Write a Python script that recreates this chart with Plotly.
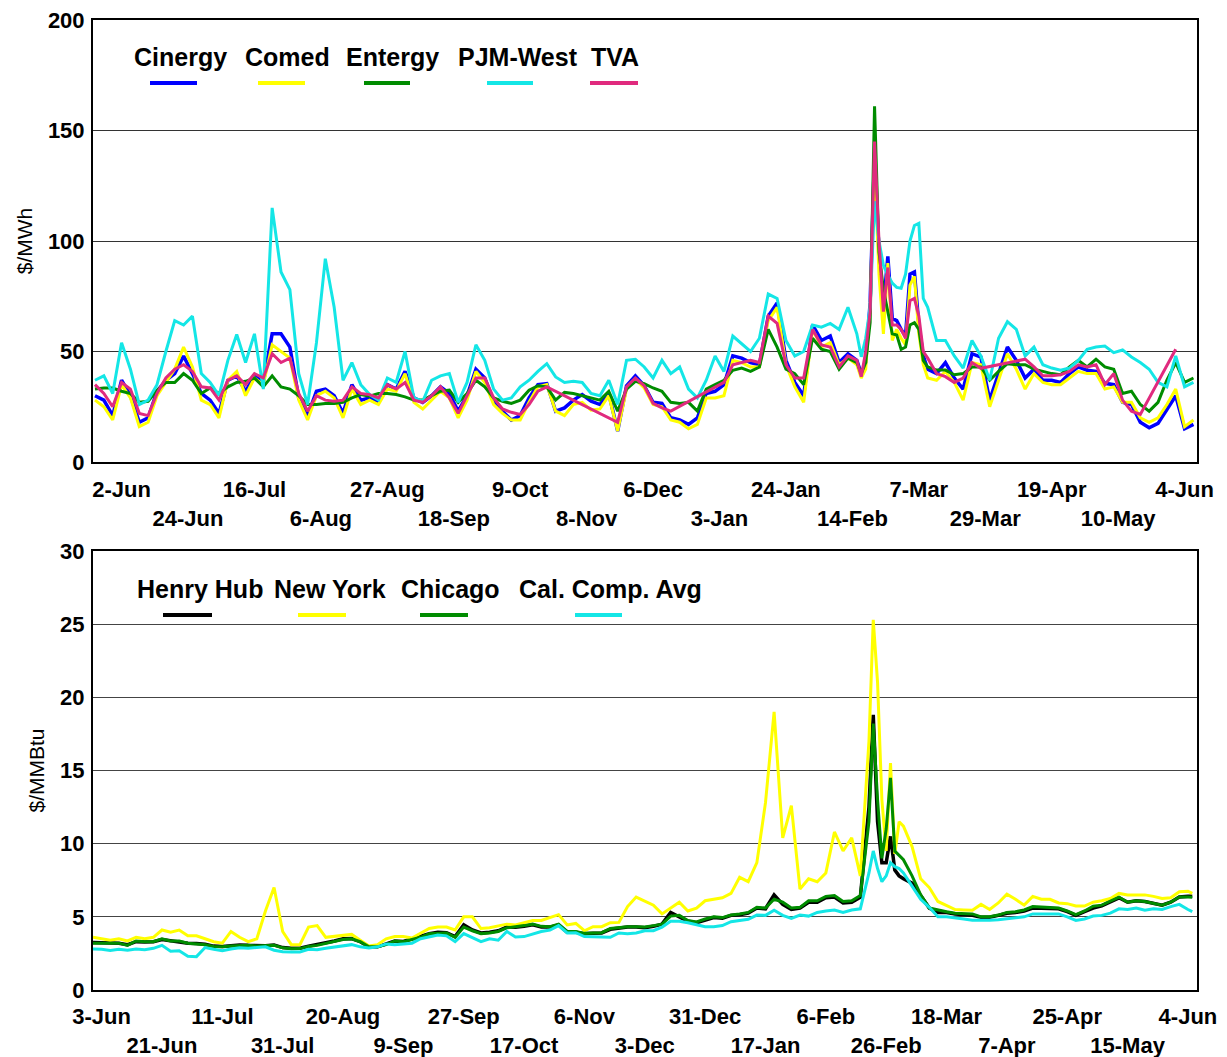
import plotly.graph_objects as go

# ---------------- Power prices ($/MWh) ----------------
power_idx = list(range(0, 173, 2)) + list(range(173, 189)) + list(range(190, 249, 2))

cinergy = [30, 28, 21, 37, 30, 18, 20, 32, 37, 40, 48, 40, 31, 28, 22, 37, 39, 32, 39, 36, 58, 58, 52, 29, 21,
           32, 33, 30, 22, 35, 28, 29, 27, 35, 33, 41, 29, 27, 30, 34, 31, 23, 30, 42, 38,
           27.5, 23, 19, 21, 29, 35, 35.5, 23, 24.5, 28, 30.5, 27.5, 26, 31, 14, 34.5, 39, 34.5, 27,
           26.5, 20, 19, 17, 20, 31, 32, 35, 48, 47, 45, 44, 66, 72, 46, 36, 30, 62, 55, 57, 45, 49, 46,
           40, 45, 72, 140, 95, 70, 93, 65, 64, 60, 57, 85, 86, 62, 48, 42,
           40, 45, 38, 33, 49, 47.5, 28, 40, 52, 46, 38, 42, 37, 37, 36, 40, 43, 41.5, 41, 35.6, 35, 27, 26, 18,
           15.5, 17.5, 24, 30, 15, 17]
comed = [28, 25, 19, 35, 29, 16, 18, 30, 36, 42, 52, 43, 28, 26, 20, 37, 41, 30, 38, 35, 53, 50, 47, 28, 19,
         30, 32, 29, 20, 33, 26, 28, 26, 33, 32, 40, 27, 24, 28, 32, 29, 20, 28, 41, 36,
         26, 22, 19, 19, 27, 34, 35, 23, 21, 26, 27, 23.5, 24, 30, 14, 33, 37.5, 33.5, 26,
         25, 19, 18, 15, 17, 29, 29, 30, 46, 45, 43, 43, 64, 70, 44, 34, 27, 60, 52, 54, 44, 47, 44,
         38, 42, 70, 135, 85, 58, 90, 55, 60, 56, 53, 80, 84, 58, 44, 38,
         37, 41, 36, 28, 45, 44, 25, 37, 49, 42, 33, 40, 36, 35, 35, 38, 41, 40, 40, 33, 34, 27, 27, 20,
         18, 20, 26, 33, 16, 19]
entergy = [33, 33.5, 33.5, 32, 31, 27, 27.5, 32.5, 36, 36, 40, 37, 31, 33.5, 31, 34, 36, 36.5, 38, 34, 39, 34, 33,
           30, 26, 26, 26.5, 26.5, 27, 29, 30.5, 29.8, 31, 31, 30.5, 29.5, 28, 28, 30, 32, 32.5, 27, 31, 37, 34,
           29, 27.5, 26.5, 28, 32.5, 34.5, 34, 28, 31.5, 31, 30, 29, 28, 32, 23, 33, 36.5, 35.5, 33.5,
           32, 27, 26.5, 27, 23, 33, 35, 37, 41.5, 42.5, 41, 43, 60, 52, 42, 40, 35, 56, 51, 50, 42, 47, 45,
           40, 45, 63, 161, 95, 78, 68, 58, 57.5, 51, 52, 62, 63, 60, 46, 43,
           41.6, 41.6, 39.5, 40, 43, 43, 37, 41, 44.5, 44, 44, 42, 41, 40, 39.5, 43, 46, 43, 46.5, 43, 42, 31, 32,
           26, 23, 27, 37, 45, 36, 38]
pjm_west = [37, 39, 31, 54, 42, 26, 28, 35, 50, 64, 62, 66, 40, 36, 30, 46, 57.7, 45, 58, 33, 115, 86, 78, 40, 26,
            54, 92, 70, 37, 45, 35, 30.5, 28, 38, 36, 50, 29, 27.5, 37, 39, 40, 27, 36, 53, 46,
            33, 28, 29, 34, 37, 41, 44.5, 38.5, 36, 36.5, 36, 31, 30, 37, 26, 46, 46.5, 43, 38,
            46, 40, 43, 33, 29, 37, 48, 41, 57, 53.5, 50, 56, 76, 74, 55, 48, 50, 62, 61, 62.7, 60, 70, 58,
            47.6, 56, 70, 118, 100, 89, 84.5, 81, 79, 78.6, 85, 100, 107, 108, 74, 70,
            55, 55, 48, 42.5, 55, 48, 37, 56, 63.5, 60, 48, 52, 44, 42.5, 41.5, 42.5, 46, 51, 52, 52.5, 49.5, 50.7,
            47.5, 45, 42, 36, 34, 48, 34, 36]
N = None
tva = [35, 31, 25, 36, 33, 22, 21, 31, 38, 42, 44, 41, 34, 33.5, 28, 37, 39, 35, 40, 38, 49, 45, 47, 31, 23,
       30, 28, 27.5, 28, 34, 31, 30.5, 29, 35, 33, 36, 28, 27, 30, 34, 29, 22, 30, 38, 38,
       29, 24, 22.5, 21.5, 26, 32, 34, N, N, N, N, N, N, N, 18, 34, 38, 34.5, 26.5,
       24.5, 23, N, N, N, N, N, 36, 44, 45, 46, 45, 66, 62.7, 44, 38, 38, 60, 53, 52, 43, 48, 46,
       38.6, 50, 68, 145, 100, 68, 88, 62, 62, 60, 56, 73, 74, 66, 50, 47,
       40, 38.6, 36, 38, 45, 42.4, N, N, N, N, 46.5, 43, 39, 39, 39.5, 41, 44, 43, 44, 35, 40, 28, 23, 21.5,
       N, N, N, 51, N, N]

power_tick_idx = [6, 21, 36, 51, 66, 81, 96, 111, 126, 141, 156, 171, 186, 201, 216, 231, 246]
power_tick_lbl = ["2-Jun", "24-Jun", "16-Jul", "6-Aug", "27-Aug", "18-Sep", "9-Oct", "8-Nov", "6-Dec",
                  "3-Jan", "24-Jan", "14-Feb", "7-Mar", "29-Mar", "19-Apr", "10-May", "4-Jun"]

# ---------------- Gas prices ($/MMBtu) ----------------
gas_idx = list(range(0, 179, 2)) + list(range(180, 189)) + list(range(190, 255, 2)) + [255]

henry_hub = [3.25, 3.22, 3.18, 3.2, 3.1, 3.3, 3.28, 3.3, 3.45, 3.35, 3.3, 3.2, 3.18, 3.12, 3.0, 2.97, 3.02, 3.08,
             3.05, 3.05, 3.02, 3.08, 2.9, 2.85, 2.85, 3.0, 3.1, 3.22, 3.35, 3.5, 3.52, 3.3, 2.95, 2.95, 3.12, 3.35,
             3.32, 3.5, 3.65, 3.85, 3.95, 3.92, 3.65, 4.45, 4.1, 3.9, 3.95, 4.05, 4.3,
             4.28, 4.35, 4.45, 4.3, 4.3, 4.45, 3.95, 3.95, 3.85, 3.88, 3.9, 4.15, 4.22, 4.3, 4.3, 4.25, 4.35, 4.5,
             5.3, 5.0, 4.7, 4.6, 4.8, 4.95, 4.9, 5.1, 5.15, 5.25, 5.6, 5.55, 6.5, 5.85, 5.5, 5.6, 6.0, 6.0, 6.3,
             6.35, 5.95, 6.0, 6.35,
             12.5, 18.8, 11.5, 8.7, 8.7, 10.5, 8.2, 7.8, 7.6,
             7.3, 6.5, 5.6, 5.3, 5.3, 5.2, 5.15, 5.1, 4.98, 4.98, 5.1, 5.25, 5.3, 5.4, 5.6, 5.6, 5.6, 5.55, 5.35,
             5.1, 5.35, 5.6, 5.75, 6.0, 6.3, 6.0, 6.1, 6.05, 5.95, 5.8, 6.0, 6.35, 6.4, 6.4]
new_york = [3.6, 3.5, 3.4, 3.5, 3.35, 3.6, 3.5, 3.6, 4.1, 3.95, 4.1, 3.7, 3.7, 3.5, 3.3, 3.2, 4.0, 3.6, 3.3, 3.5,
            5.4, 7.0, 4.0, 3.1, 3.1, 4.3, 4.4, 3.6, 3.65, 3.75, 3.8, 3.4, 3.0, 3.1, 3.5, 3.65, 3.65, 3.55, 3.9,
            4.2, 4.3, 4.3, 4.1, 5.0, 5.0, 4.2, 4.25, 4.35, 4.5,
            4.45, 4.6, 4.75, 4.75, 4.95, 5.15, 4.45, 4.55, 4.05, 4.33, 4.33, 4.6, 4.62, 5.7, 6.35, 6.1, 5.8, 5.2,
            5.6, 6.0, 5.4, 5.6, 6.1, 6.2, 6.3, 6.6, 7.7, 7.4, 8.7, 12.8, 19.0, 10.4, 12.6, 6.9, 7.6, 7.4, 8.0,
            10.8, 9.5, 10.4, 7.8,
            17, 25.3, 21, 13.0, 9.5, 15.5, 9.3, 11.5, 11.2,
            9.8, 7.6, 7.0, 6.05, 5.8, 5.5, 5.47, 5.45, 5.85, 5.5, 5.95, 6.55, 6.2, 5.8, 6.4, 6.2, 6.2, 5.95, 5.9,
            5.74, 5.74, 6.0, 6.1, 6.25, 6.6, 6.5, 6.5, 6.5, 6.4, 6.25, 6.3, 6.72, 6.75, 6.6]
chicago = [3.2, 3.2, 3.15, 3.2, 3.05, 3.35, 3.3, 3.3, 3.5, 3.35, 3.35, 3.2, 3.15, 3.1, 2.98, 2.95, 3.0, 3.05, 3.05,
           3.0, 3.0, 3.05, 2.88, 2.82, 2.83, 2.98, 3.05, 3.2, 3.3, 3.45, 3.5, 3.3, 2.95, 2.95, 3.1, 3.35, 3.3,
           3.45, 3.6, 3.85, 3.9, 3.9, 3.6, 4.3, 4.05, 3.85, 3.9, 4.0, 4.25,
           4.3, 4.4, 4.5, 4.35, 4.33, 4.5, 4.0, 3.99, 3.87, 3.9, 3.92, 4.2, 4.27, 4.33, 4.33, 4.3, 4.4, 4.5,
           5.05, 5.1, 4.75, 4.65, 4.85, 5.0, 4.95, 5.12, 5.2, 5.3, 5.65, 5.6, 6.2, 6.0, 5.6, 5.65, 6.1, 6.1, 6.4,
           6.45, 6.05, 6.1, 6.45,
           11.5, 18.2, 13, 9.0, 11, 14.5, 9.5, 9.2, 8.9,
           7.8, 6.5, 5.6, 5.45, 5.35, 5.25, 5.2, 5.2, 5.0, 5.0, 5.12, 5.3, 5.35, 5.47, 5.7, 5.65, 5.65, 5.6, 5.4,
           5.15, 5.4, 5.72, 5.8, 6.05, 6.35, 6.0, 6.1, 6.05, 5.95, 5.8, 6.0, 6.35, 6.35, 6.33]
cal_comp = [2.8, 2.78, 2.7, 2.78, 2.72, 2.8, 2.75, 2.85, 3.05, 2.65, 2.68, 2.3, 2.28, 2.9, 2.78, 2.68, 2.8, 2.88,
            2.86, 2.88, 2.95, 2.72, 2.62, 2.6, 2.6, 2.78, 2.75, 2.85, 2.93, 3.02, 3.1, 2.95, 2.87, 2.95, 3.15,
            3.1, 3.15, 3.2, 3.5, 3.65, 3.75, 3.7, 3.3, 3.85, 3.6, 3.3, 3.5, 3.4, 4.0,
            3.62, 3.65, 3.85, 4.0, 4.1, 4.4, 3.9, 3.92, 3.65, 3.64, 3.64, 3.6, 3.9, 3.85, 3.9, 4.05, 4.05, 4.3,
            4.7, 4.7, 4.6, 4.45, 4.33, 4.33, 4.4, 4.67, 4.75, 4.83, 5.12, 5.1, 5.45, 5.1, 4.9, 5.12, 5.05, 5.3,
            5.4, 5.47, 5.3, 5.47, 5.55,
            8.0, 9.5, 8.3, 7.4, 7.8, 8.7, 8.43, 8.3, 8.0,
            7.1, 6.2, 5.65, 5.0, 5.0, 4.95, 4.85, 4.76, 4.74, 4.76, 4.8, 4.85, 4.9, 5.0, 5.2, 5.2, 5.2, 5.2, 5.0,
            4.75, 4.85, 5.05, 5.1, 5.25, 5.55, 5.5, 5.6, 5.45, 5.55, 5.5, 5.7, 5.85, 5.5, 5.35]

gas_tick_idx = [2, 16, 30, 44, 58, 72, 86, 100, 114, 128, 142, 156, 170, 184, 198, 212, 226, 240, 254]
gas_tick_lbl = ["3-Jun", "21-Jun", "11-Jul", "31-Jul", "20-Aug", "9-Sep", "27-Sep", "17-Oct", "6-Nov", "3-Dec",
                "31-Dec", "17-Jan", "6-Feb", "26-Feb", "18-Mar", "7-Apr", "25-Apr", "15-May", "4-Jun"]

power_series = [("Cinergy", cinergy, "#0000FF"), ("Comed", comed, "#FFFF00"), ("Entergy", entergy, "#008C00"),
                ("PJM-West", pjm_west, "#14E6E6"), ("TVA", tva, "#E02A7E")]
gas_series = [("Henry Hub", henry_hub, "#000000"), ("New York", new_york, "#FFFF00"),
              ("Chicago", chicago, "#008C00"), ("Cal. Comp. Avg", cal_comp, "#14E6E6")]

# ---------------- figure ----------------
W, H = 1227, 1057
OFF = 8  # page body margin
PL, PR, PT, PB = 93, 1197, 20, 990  # target plot-area edges on the page
ML, MR, MT, MB = PL - OFF, W + OFF - PR, PT - OFF, H + OFF - PB
PW, PH = W - ML - MR, H - MT - MB
FONT = "Liberation Sans, Arial, sans-serif"


def px(x):
    return (x - PL) / PW


def py(y):
    return (PB - y) / PH


fig = go.Figure()
for name, vals, col in power_series:
    fig.add_trace(go.Scatter(x=power_idx, y=vals, mode="lines", name=name, connectgaps=True,
                             line=dict(color=col, width=3.5 if name == "Cinergy" else 3),
                             xaxis="x", yaxis="y", showlegend=False))
for name, vals, col in gas_series:
    fig.add_trace(go.Scatter(x=gas_idx, y=vals, mode="lines", name=name,
                             line=dict(color=col, width=3.5 if name == "Henry Hub" else 3),
                             xaxis="x2", yaxis="y2", showlegend=False))


def two_row(labels):
    return [lb if i % 2 == 0 else "<br>" + lb for i, lb in enumerate(labels)]


axis_common = dict(showline=True, mirror=True, linecolor="black", linewidth=2, zeroline=False,
                   automargin=False, ticklabeloverflow="allow",
                   tickfont=dict(family=FONT, size=22, color="black", weight="bold"), ticks="")
fig.update_layout(
    width=W, height=H, paper_bgcolor="white", plot_bgcolor="white",
    margin=dict(l=ML, r=MR, t=MT, b=MB),
    font=dict(family=FONT, color="black"),
    xaxis=dict(domain=[0, 1], anchor="y", range=[-0.45, 248.8], tickmode="array", tickangle=0,
               tickvals=power_tick_idx, ticktext=two_row(power_tick_lbl), showgrid=False,
               ticklabelstandoff=7, **axis_common),
    yaxis=dict(domain=[py(462), 1], anchor="x", range=[0, 200], tickvals=[0, 50, 100, 150, 200],
               showgrid=True, gridcolor="#333333", gridwidth=1,
               title=dict(text="$/MWh", font=dict(family=FONT, size=21), standoff=10),
               ticklabelstandoff=2, **axis_common),
    xaxis2=dict(domain=[0, 1], anchor="y2", range=[0, 256.1], tickmode="array", tickangle=0,
                tickvals=gas_tick_idx, ticktext=two_row(gas_tick_lbl), showgrid=False,
                ticklabelstandoff=6, **axis_common),
    yaxis2=dict(domain=[0, py(551)], anchor="x2", range=[0, 30], tickvals=[0, 5, 10, 15, 20, 25, 30],
                showgrid=True, gridcolor="#444444", gridwidth=1,
                title=dict(text="$/MMBtu", font=dict(family=FONT, size=21), standoff=10),
                ticklabelstandoff=2, **axis_common),
)

# custom legends: label on top, line sample below
power_leg = [("Cinergy", 180, 150, 197, "#0000FF"), ("Comed", 287, 258, 305, "#FFFF00"),
             ("Entergy", 392, 364, 410, "#008C00"), ("PJM-West", 518, 487, 533, "#14E6E6"),
             ("TVA", 615, 590, 638, "#E02A7E")]
gas_leg = [("Henry Hub", 200, 163, 212, "#000000"), ("New York", 330, 298, 346, "#FFFF00"),
           ("Chicago", 450, 420, 468, "#008C00"), ("Cal. Comp. Avg", 610, 575, 622, "#14E6E6")]
for items, ty, ly in [(power_leg, 57, 83), (gas_leg, 589, 615)]:
    for txt, cx, x0, x1, col in items:
        fig.add_annotation(x=px(cx), y=py(ty), xref="paper", yref="paper", text="<b>%s</b>" % txt,
                           showarrow=False, font=dict(family=FONT, size=25, color="black"),
                           xanchor="center", yanchor="middle")
        fig.add_shape(type="line", xref="paper", yref="paper", x0=px(x0), x1=px(x1), y0=py(ly), y1=py(ly),
                      line=dict(color=col, width=4))

fig.write_html("out.html")
